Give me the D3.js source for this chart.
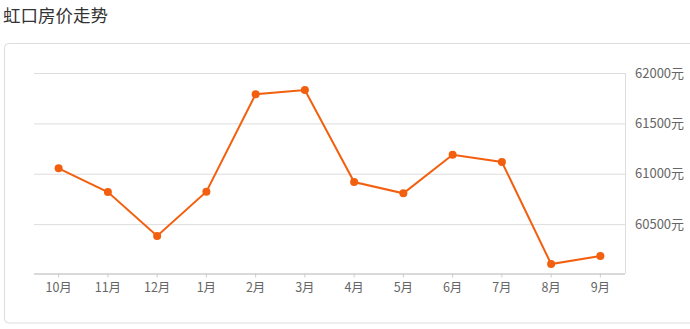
<!DOCTYPE html>
<html>
<head>
<meta charset="utf-8">
<script src="https://cdn.jsdelivr.net/npm/d3@7"></script>
<style>
	body { margin: 0; background: #fff; }
	svg { display: block; font-family: "Noto Sans CJK SC", sans-serif; }
</style>
</head>
<body>
<svg id="chart"></svg>
<script>
// 虹口房价走势 - line chart
const WIDTH = 690;
const HEIGHT = 329;

const title = "虹口房价走势";
const months = ["10月", "11月", "12月", "1月", "2月", "3月", "4月", "5月", "6月", "7月", "8月", "9月"];
const prices = [61054, 60819, 60382, 60822, 61789, 61831, 60918, 60806, 61189, 61117, 60104, 60184];
const yTicks = [60500, 61000, 61500, 62000];
const yDomain = [60000, 62000];

const plot = { left: 34, right: 625, top: 73, bottom: 274.5 };
const lineColor = "#f2600f";

const svg = d3.select("#chart")
	.attr("width", WIDTH)
	.attr("height", HEIGHT);

// title
svg.append("text")
	.attr("x", 3)
	.attr("y", 21.5)
	.attr("fill", "#333")
	.style("font-size", "17.5px")
	.text(title);

// panel box
svg.append("rect")
	.attr("x", 4.5)
	.attr("y", 43.5)
	.attr("width", 700)
	.attr("height", 279.5)
	.attr("rx", 4)
	.attr("fill", "none")
	.attr("stroke", "#ddd");

// scales
const xScale = d3.scaleBand()
	.domain(months)
	.range([plot.left, plot.right]);

const yScale = d3.scaleLinear()
	.domain(yDomain)
	.range([plot.bottom, plot.top]);

// grid + right axis labels
const yAxis = d3.axisRight(yScale)
	.tickValues(yTicks)
	.tickSize(-(plot.right - plot.left))
	.tickPadding(10)
	.tickFormat(d => d + "元");

svg.append("g")
	.attr("transform", `translate(${plot.right},0)`)
	.call(yAxis)
	.call(g => g.select(".domain").attr("stroke", "#ddd").attr("d", `M0.5,${plot.top}V${plot.bottom - 1}`))
	.call(g => g.selectAll(".tick line").attr("stroke", "#ddd"))
	.call(g => g.selectAll(".tick text")
		.attr("fill", "#666")
		.style("font-size", "13px")
		.style("font-family", "\"Noto Sans CJK SC\", sans-serif"));

// bottom axis
const xAxis = d3.axisBottom(xScale)
	.tickSize(4)
	.tickPadding(6);

svg.append("g")
	.attr("transform", `translate(0,${plot.bottom - 1})`)
	.call(xAxis)
	.call(g => g.select(".domain").attr("stroke", "#ccc").attr("stroke-width", 1.5).attr("d", `M${plot.left},0.5H${plot.right}`))
	.call(g => g.selectAll(".tick line").attr("stroke", "#ccc"))
	.call(g => g.selectAll(".tick text")
		.attr("fill", "#666")
		.style("font-size", "12.5px")
		.style("font-family", "\"Noto Sans CJK SC\", sans-serif"));

// line
const data = months.map((m, i) => ({ month: m, price: prices[i] }));
const cx = d => xScale(d.month) + xScale.bandwidth() / 2;

const line = d3.line()
	.x(cx)
	.y(d => yScale(d.price));

svg.append("path")
	.datum(data)
	.attr("fill", "none")
	.attr("stroke", lineColor)
	.attr("stroke-width", 2)
	.attr("d", line);

svg.append("g")
	.selectAll("circle")
	.data(data)
	.join("circle")
	.attr("cx", cx)
	.attr("cy", d => yScale(d.price))
	.attr("r", 4)
	.attr("fill", lineColor);
</script>
</body>
</html>
